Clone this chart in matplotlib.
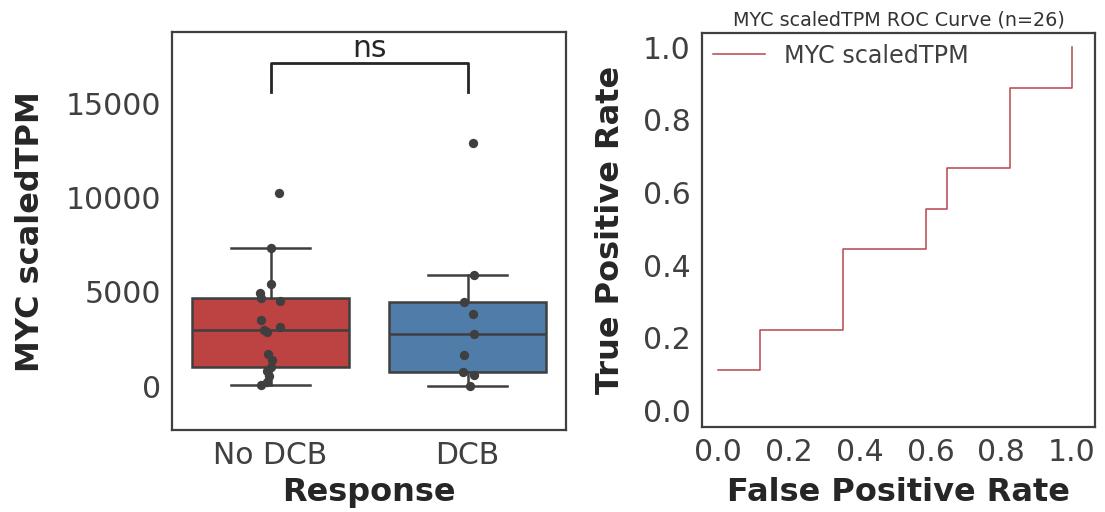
import numpy as np
import matplotlib.pyplot as plt

# ---- data ----
groups = ["No DCB", "DCB"]
no_dcb_tpm = [10270, 7350, 5400, 4960, 4650, 4500, 3500, 3150, 2970,
              2850, 1730, 1400, 1025, 800, 550, 200, 40]
no_dcb_jitter = [0.042, 0.003, 0.0, -0.054, -0.047, 0.047, -0.05, 0.05, -0.034,
                 -0.02, -0.014, 0.008, 0.0, -0.017, -0.01, -0.02, -0.047]
dcb_tpm = [12900, 5880, 4440, 3850, 2760, 1650, 730, 580, 10]
dcb_jitter = [0.027, 0.034, -0.017, 0.03, 0.034, -0.017, -0.025, 0.035, 0.014]

# ROC corner points (9 DCB positives, 17 No DCB negatives)
fpr = [0, 2/17, 2/17, 6/17, 6/17, 10/17, 10/17, 11/17, 11/17, 14/17, 14/17, 1, 1]
tpr = [1/9, 1/9, 2/9, 2/9, 4/9, 4/9, 5/9, 5/9, 6/9, 6/9, 8/9, 8/9, 1]

sig_label = "ns"
gene = "MYC scaledTPM"

box_colors = ["#bd4242", "#4f7ca8"]
dark = "#3f3f3f"
txt = "#262626"

plt.rcParams["font.family"] = ["DejaVu Sans"]
fig = plt.figure(figsize=(11.05, 5.12), dpi=100)
ax1 = fig.add_axes([0.1557, 0.160, 0.3566, 0.777])
ax2 = fig.add_axes([0.6353, 0.166, 0.3557, 0.770])

# ---- left: boxplot + strip ----
bp = ax1.boxplot([no_dcb_tpm, dcb_tpm], positions=[0, 1], widths=0.8,
                 patch_artist=True, showfliers=False, whis=1.5,
                 medianprops=dict(color=dark, lw=1.8),
                 whiskerprops=dict(color=dark, lw=1.8),
                 capprops=dict(color=dark, lw=1.8),
                 boxprops=dict(edgecolor=dark, lw=1.8))
for patch, c in zip(bp["boxes"], box_colors):
    patch.set_facecolor(c)
for cap in bp["caps"]:
    x0, x1 = cap.get_xdata()
    mid = (x0 + x1) / 2
    cap.set_xdata([mid - 0.2, mid + 0.2])

for i, (vals, jit) in enumerate([(no_dcb_tpm, no_dcb_jitter), (dcb_tpm, dcb_jitter)]):
    ax1.scatter(np.array(jit) + i, vals, s=45, color=dark, zorder=3, linewidths=0)

# significance bracket
y0, h = 15600, 1560
ax1.plot([0, 0, 1, 1], [y0, y0 + h, y0 + h, y0], color=txt, lw=2)
ax1.text(0.5, y0 + h, sig_label, ha="center", va="bottom", fontsize=21.5, color=txt)

ax1.set_xlim(-0.5, 1.5)
ax1.set_ylim(-2330, 18770)
ax1.set_yticks([0, 5000, 10000, 15000])
ax1.set_xticks([0, 1])
ax1.set_xticklabels(groups)
ax1.set_xlabel("Response", fontsize=23, fontweight="bold", color=txt, labelpad=5)
ax1.set_ylabel(gene, fontsize=23, fontweight="bold", color=txt, labelpad=14)

# ---- right: ROC curve ----
ax2.plot(fpr, tpr, color="#b8454f", lw=1.1, label=gene)
ax2.set_xlim(-0.046, 1.065)
ax2.set_ylim(-0.046, 1.04)
ax2.set_xticks(np.arange(0, 1.01, 0.2))
ax2.set_yticks(np.arange(0, 1.01, 0.2))
ax2.set_xlabel("False Positive Rate", fontsize=23, fontweight="bold", color=txt, labelpad=7)
ax2.set_ylabel("True Positive Rate", fontsize=23, fontweight="bold", color=txt, labelpad=12)
ax2.set_title(f"{gene} ROC Curve (n={len(no_dcb_tpm) + len(dcb_tpm)})", fontsize=13.8,
              color="#333333", pad=5)
ax2.legend(loc="upper left", frameon=False, fontsize=17.2, handlelength=2.2,
           borderaxespad=0.05, labelcolor="#404040")

for ax in (ax1, ax2):
    ax.tick_params(length=0, labelsize=21.5, labelcolor="#404040", pad=8)
    for sp in ax.spines.values():
        sp.set_color(dark)
        sp.set_linewidth(1.6)

fig.savefig("out.png", dpi=100)
